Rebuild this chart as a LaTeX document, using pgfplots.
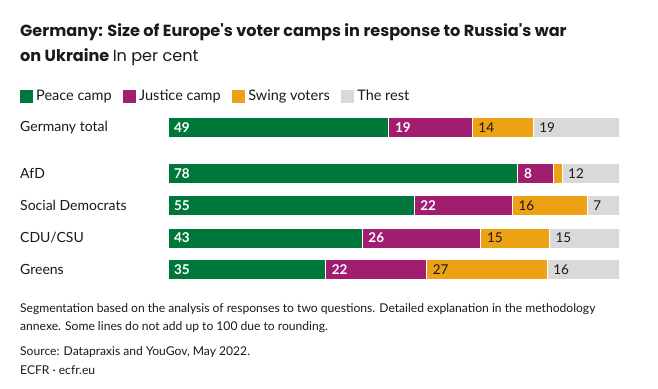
\documentclass[border=0pt]{standalone}
\usepackage{pgfplots}
\pgfplotsset{compat=1.18}
\usepackage{fontspec}
\setmainfont{Lato}
\newfontfamily\titlefont{Poppins}
\definecolor{peace}{HTML}{00773A}
\definecolor{justice}{HTML}{A01D6F}
\definecolor{swing}{HTML}{EDA114}
\definecolor{rest}{HTML}{D9D9D9}
\definecolor{txt}{HTML}{1A1A1A}
\begin{document}
\begin{tikzpicture}[x=1pt,y=1pt]
\fill[white] (0,0) rectangle (658,388);
% title
\node[anchor=base west,inner sep=0pt,text=txt] at (20,351) {\titlefont\fontsize{16.1}{19}\selectfont\bfseries Germany: Size of Europe's voter camps in response to Russia's war};
\node[anchor=base west,inner sep=0pt,text=txt] at (20,326) {\titlefont\fontsize{16.1}{19}\selectfont\bfseries on Ukraine \mdseries In per cent};
% category names
\foreach \n/\y in {Germany total/128, AfD/173.5, Social Democrats/205.5, {CDU/CSU}/238, Greens/269.5}{
  \node[anchor=west,inner sep=0pt,text=txt] at (20,388-\y) {\fontsize{14}{16}\selectfont \n};
}
\begin{axis}[
  at={(168pt,98pt)}, anchor=south west,
  scale only axis, width=451pt, height=182pt,
  xmin=0, xmax=100, ymin=108, ymax=290, y dir=reverse,
  enlargelimits=false, axis lines=none, ticks=none,
  xbar stacked, bar width=20pt, bar shift=0pt,
  every axis plot/.append style={draw=white, line width=1pt},
  legend columns=4,
  legend image code/.code={\fill[#1,draw=none] (0pt,-6.5pt) rectangle (13pt,6.5pt);},
  legend style={at={(-0.3282,1.0659)}, anchor=west, draw=none, fill=none, inner sep=0pt,
    font=\fontsize{14.5}{16}\selectfont, text=txt,
    /tikz/every even column/.append style={column sep=10pt},
    /tikz/every odd column/.append style={column sep=1.5pt},
    nodes={inner sep=1.5pt}},
]
\addplot[fill=peace] coordinates {(49,128) (77.6,173.5) (54.6,205.5) (43.1,238) (35,269.5)};
\addplot[fill=justice] coordinates {(18.5,128) (7.9,173.5) (21.8,205.5) (26.3,238) (22.4,269.5)};
\addplot[fill=swing] coordinates {(13.5,128) (1.9,173.5) (16.6,205.5) (15.2,238) (26.7,269.5)};
\addplot[fill=rest] coordinates {(19,128) (12.6,173.5) (7,205.5) (15.4,238) (15.9,269.5)};
\legend{Peace camp, Justice camp, Swing voters, The rest}
\end{axis}
\begin{axis}[
  at={(168pt,98pt)}, anchor=south west,
  scale only axis, width=451pt, height=182pt,
  xmin=0, xmax=100, ymin=108, ymax=290, y dir=reverse,
  enlargelimits=false, axis lines=none, ticks=none, clip=false,
]
\addplot[draw=none, mark=none, nodes near coords, point meta=explicit symbolic,
  nodes near coords style={anchor=west, xshift=2.5pt, text=white, font=\fontsize{13.5}{15}\selectfont\bfseries}]
  coordinates {(0,128) [49] (49,128) [19] (0,173.5) [78] (77.6,173.5) [8]
   (0,205.5) [55] (54.6,205.5) [22] (0,238) [43] (43.1,238) [26] (0,269.5) [35] (35,269.5) [22]};
\addplot[draw=none, mark=none, nodes near coords, point meta=explicit symbolic,
  nodes near coords style={anchor=west, xshift=2.5pt, text=txt, font=\fontsize{13.5}{15}\selectfont}]
  coordinates {(67.5,128) [14] (81,128) [19] (87.4,173.5) [12] (76.4,205.5) [16] (93,205.5) [7]
   (69.4,238) [15] (84.6,238) [15] (57.4,269.5) [27] (84.1,269.5) [16]};
\end{axis}
% footer
\node[anchor=base west,inner sep=0pt,text=txt] at (20,388-313) {\fontsize{12.1}{14}\selectfont Segmentation based on the analysis of responses to two questions. Detailed explanation in the methodology};
\node[anchor=base west,inner sep=0pt,text=txt] at (20,388-331) {\fontsize{12.1}{14}\selectfont annexe. Some lines do not add up to 100 due to rounding.};
\node[anchor=base west,inner sep=0pt,text=txt] at (20,388-356) {\fontsize{12.1}{14}\selectfont Source: Datapraxis and YouGov, May 2022.};
\node[anchor=base west,inner sep=0pt,text=txt] at (20,388-374) {\fontsize{12.1}{14}\selectfont ECFR · ecfr.eu};
\end{tikzpicture}
\end{document}
